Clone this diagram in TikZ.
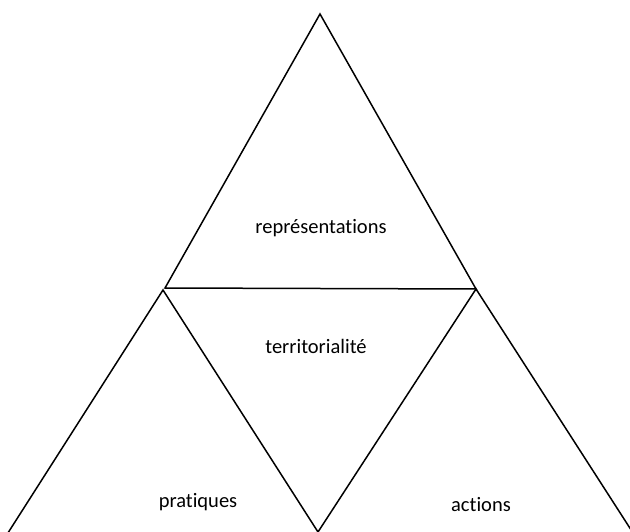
\documentclass[tikz,border=0pt]{standalone}
\usepackage{fontspec}
\setmainfont[Ligatures=NoCommon]{Carlito}
\begin{document}
\begin{tikzpicture}[x=1pt,y=-1pt,
  edge/.style={draw=black,line width=1.5pt,line join=miter},
  lbl/.style={font=\fontsize{20.5}{24}\selectfont,inner sep=0pt}]
\useasboundingbox (0,0) rectangle (630,532);
\clip (0,0) rectangle (630,532);
\coordinate (A) at (320,14);
\coordinate (L) at (165,288);
\coordinate (L2) at (163,290);
\coordinate (R) at (476,289);
\coordinate (BL) at (6,536);
\coordinate (BM) at (318,532);
\coordinate (BR) at (635,536);
\draw[edge] (A) -- (L) -- (R) -- cycle;
\draw[edge] (BL) -- (L2) -- (BM) -- (R) -- (BR);
\node[lbl] (rep) at (321,228) {représentations};
\node[lbl] (ter) at (316,346) {territorialité};
\node[lbl] (pra) at (198,502) {pratiques};
\node[lbl] (act) at (481,505) {actions};
\end{tikzpicture}
\end{document}
